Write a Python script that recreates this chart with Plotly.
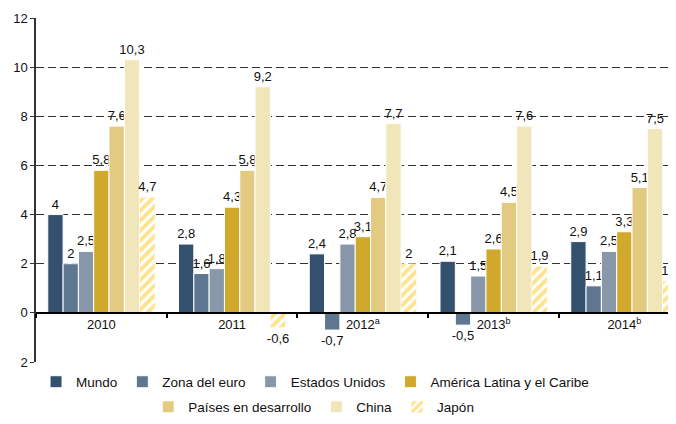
import plotly.graph_objects as go

years = ["2010", "2011", "2012<sup>a</sup>", "2013<sup>b</sup>", "2014<sup>b</sup>"]
series_names = ["Mundo", "Zona del euro", "Estados Unidos", "América Latina y el Caribe",
                "Países en desarrollo", "China", "Japón"]
mundo = [4, 2.8, 2.4, 2.1, 2.9]
zona_euro = [2, 1.6, -0.7, -0.5, 1.1]
estados_unidos = [2.5, 1.8, 2.8, 1.5, 2.5]
america_latina = [5.8, 4.3, 3.1, 2.6, 3.3]
paises_desarrollo = [7.6, 5.8, 4.7, 4.5, 5.1]
china = [10.3, 9.2, 7.7, 7.6, 7.5]
japon = [4.7, -0.6, 2, 1.9, 1.3]
y_tickvals = [-2, 0, 2, 4, 6, 8, 10, 12]
y_ticktext = ["2", "0", "2", "4", "6", "8", "10", "12"]

values = [mundo, zona_euro, estados_unidos, america_latina, paises_desarrollo, china, japon]
colors = ["#33506e", "#5e7690", "#8898aa", "#cfa82c", "#e2cb80", "#f1e6b9", "#ffc61a"]

def fmt(v):
    return ("%g" % v).replace(".", ",")

fig = go.Figure()
for i, (name, vals, col) in enumerate(zip(series_names, values, colors)):
    marker = dict(color=col, line=dict(color="white", width=1))
    if name == "Japón":
        marker = dict(color="white", line=dict(color="white", width=0.5),
                      pattern=dict(shape="/", fgcolor=col, bgcolor="white", size=7, solidity=0.55))
    fig.add_trace(go.Bar(
        x=years, y=vals, name=name, marker=marker,
        text=[fmt(v) for v in vals], textposition="outside", constraintext="none",
        textfont=dict(size=13, color="#111"), cliponaxis=False,
        legend="legend" if i < 4 else "legend2",
    ))

# page body has an 8px margin: shift the figure so the plot area lands where the reference has it
fig.update_layout(
    width=668, height=416,
    margin=dict(l=28, r=0, t=10, b=62, autoexpand=False),
    paper_bgcolor="white", plot_bgcolor="white",
    font=dict(family="Liberation Sans, Arial, sans-serif", size=13, color="#111"),
    barmode="group", bargap=0.18, bargroupgap=0,
    showlegend=True,
    legend=dict(orientation="h", x=0.436, xanchor="center", y=-0.058, yanchor="middle",
                font=dict(size=13.5), itemwidth=30, traceorder="normal"),
    legend2=dict(orientation="h", x=0.434, xanchor="center", y=-0.131, yanchor="middle",
                 font=dict(size=13.5), itemwidth=30, traceorder="normal"),
)
fig.update_xaxes(
    type="category", range=[-0.5, 4.395], anchor="free", position=1/7, automargin=False,
    showline=True, linecolor="black", linewidth=1.5,
    ticks="outside", tickson="boundaries", ticklen=4, tickcolor="black", tickwidth=1.5,
    showgrid=False, tickfont=dict(size=13, color="#111"),
)
fig.update_yaxes(
    range=[-2, 12], tickvals=y_tickvals, ticktext=y_ticktext, automargin=False,
    showline=True, linecolor="#333", linewidth=1.5,
    ticks="outside", ticklen=4, tickcolor="#333",
    showgrid=True, gridcolor="#333", gridwidth=1.2, griddash="8px,4px",
    zeroline=True, zerolinecolor="black", zerolinewidth=1.5,
    tickfont=dict(size=13, color="#111"),
)

fig.write_html("out.html")
